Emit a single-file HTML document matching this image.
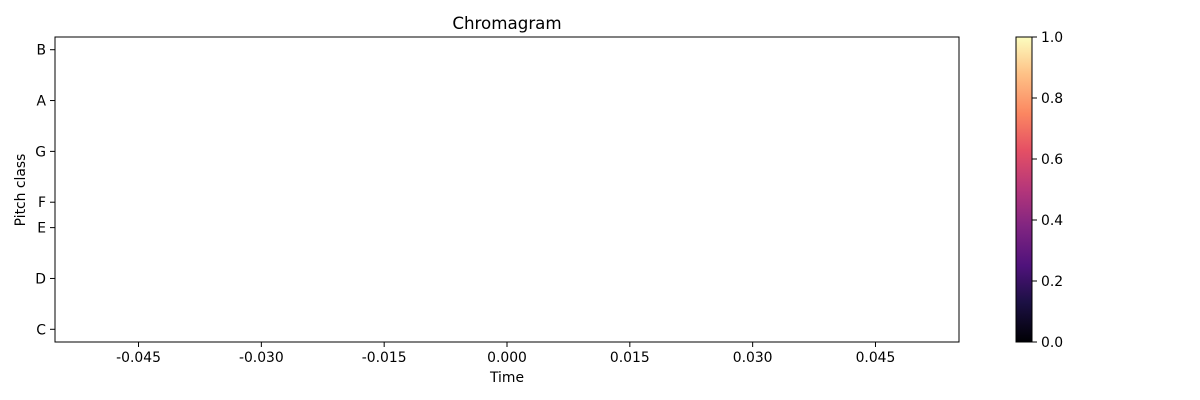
<!DOCTYPE html>
<html><head><meta charset="utf-8"><style>
body{margin:0;background:#fff;}
svg{display:block;font-family:"DejaVu Sans","Liberation Sans",sans-serif;}
</style></head><body>
<svg id="chart" width="1200" height="400">
<defs>
<linearGradient id="magma" x1="0" y1="1" x2="0" y2="0">
<stop offset="0" stop-color="#000004"/>
<stop offset="0.13" stop-color="#1c1044"/>
<stop offset="0.25" stop-color="#4f127b"/>
<stop offset="0.38" stop-color="#812581"/>
<stop offset="0.5" stop-color="#b5367a"/>
<stop offset="0.63" stop-color="#e55064"/>
<stop offset="0.75" stop-color="#fb8761"/>
<stop offset="0.88" stop-color="#fec287"/>
<stop offset="1" stop-color="#fcfdbf"/>
</linearGradient>
</defs>
<text x="507" y="29" text-anchor="middle" font-size="16.7">Chromagram</text>
<rect x="55" y="37" width="904" height="305" fill="#fff" stroke="#000" stroke-width="1"/>
<g id="xticks"></g><g id="yticks"></g>
<text x="507" y="382" text-anchor="middle" font-size="13.9">Time</text>
<text transform="translate(25,190) rotate(-90)" text-anchor="middle" font-size="13.9">Pitch class</text>
<rect x="1016" y="37" width="16" height="305" fill="url(#magma)" stroke="#000" stroke-width="1"/>
<g id="cticks"></g>
</svg>
<script>
const xTicks=[-0.045,-0.030,-0.015,0.000,0.015,0.030,0.045];
const xLabels=["-0.045","-0.030","-0.015","0.000","0.015","0.030","0.045"];
const yPitch=[0,2,4,5,7,9,11];
const yLabels=["C","D","E","F","G","A","B"];
const cTicks=[0,0.2,0.4,0.6,0.8,1.0];
const cLabels=["0.0","0.2","0.4","0.6","0.8","1.0"];
const NS="http://www.w3.org/2000/svg";
const X0=55,X1=959,Y0=37,Y1=342,xmin=-0.0552,xmax=0.0552;
const xs=v=>X0+(v-xmin)/(xmax-xmin)*(X1-X0);
const ys=p=>Y1-(p+0.5)/12*(Y1-Y0);
const cs=v=>Y1-v*(Y1-Y0);
function mk(t,a,p){const e=document.createElementNS(NS,t);for(const k in a)e.setAttribute(k,a[k]);p.appendChild(e);return e;}
const gx=document.getElementById('xticks');
xTicks.forEach((v,i)=>{const x=xs(v);
 const l=mk('line',{x1:x,x2:x,y1:342,y2:347,stroke:'#000'},gx);
 
 
 const t=mk('text',{x:x,y:362,'text-anchor':'middle','font-size':'13.9'},gx);t.textContent=xLabels[i];
 
 
});
const gy=document.getElementById('yticks');
yPitch.forEach((p,i)=>{const y=ys(p);
 const l=mk('line',{x1:50,x2:55,y1:y,y2:y,stroke:'#000'},gy);
 
 
 const t=mk('text',{x:46,y:y+5,'text-anchor':'end','font-size':'13.9'},gy);t.textContent=yLabels[i];
 
 
});
const gc=document.getElementById('cticks');
cTicks.forEach((v,i)=>{const y=cs(v);
 const l=mk('line',{x1:1032,x2:1037,y1:y,y2:y,stroke:'#000'},gc);
 
 
 const t=mk('text',{x:1041,y:y+5,'font-size':'13.9'},gc);t.textContent=cLabels[i];
 
 
});
</script>
</body></html>
